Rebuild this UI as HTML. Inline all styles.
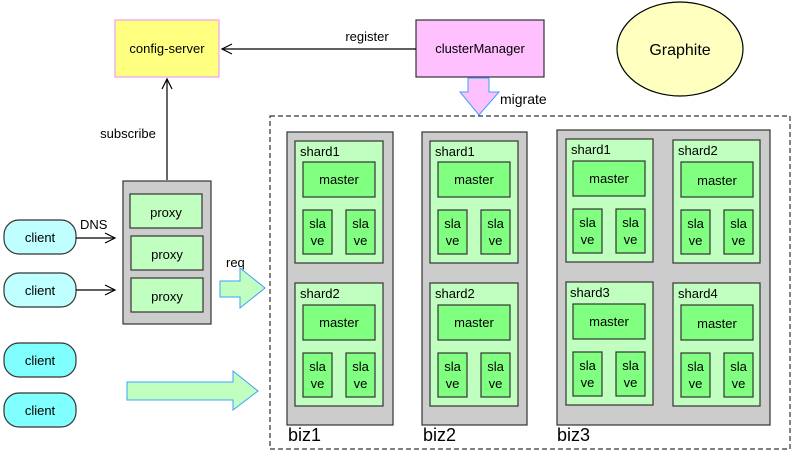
<!DOCTYPE html>
<html><head><meta charset="utf-8"><style>
html,body{margin:0;padding:0;background:#fff;}
svg{display:block;font-family:"Liberation Sans",sans-serif;}
</style></head><body>
<svg width="796" height="455" viewBox="0 0 796 455" xmlns="http://www.w3.org/2000/svg">
<!-- config-server -->
<rect x="115" y="20" width="104" height="57" fill="#ffff80" stroke="#f0a0f0" stroke-width="1.2"/>
<text x="167" y="53" font-size="13" text-anchor="middle">config-server</text>
<!-- clusterManager -->
<rect x="416" y="20" width="128" height="57" fill="#ffc0ff" stroke="#333" stroke-width="1.2"/>
<text x="480" y="53" font-size="13" text-anchor="middle">clusterManager</text>
<!-- register -->
<line x1="416" y1="49" x2="222" y2="49" stroke="#000" stroke-width="1.2"/>
<polyline points="232,44 222,49 232,54" fill="none" stroke="#000" stroke-width="1.2"/>
<text x="367" y="41" font-size="13" text-anchor="middle">register</text>
<!-- Graphite -->
<ellipse cx="680" cy="49" rx="63" ry="47" fill="#ffffc0" stroke="#000" stroke-width="1.2"/>
<text x="680" y="55" font-size="16" text-anchor="middle">Graphite</text>
<!-- migrate arrow -->
<polygon points="468,78 489,78 489,92 499,92 479,115 460,92 468,92" fill="#ffc0ff" stroke="#3aa0ff" stroke-width="1"/>
<text x="500" y="104" font-size="14">migrate</text>
<!-- subscribe -->
<line x1="167" y1="180" x2="167" y2="79" stroke="#000" stroke-width="1.2"/>
<polyline points="162,89 167,79 172,89" fill="none" stroke="#000" stroke-width="1.2"/>
<text x="128" y="138" font-size="13" text-anchor="middle">subscribe</text>
<!-- proxy container -->
<rect x="123" y="181" width="88" height="143" fill="#cccccc" stroke="#333" stroke-width="1.2"/>
<rect x="130" y="194" width="72" height="34" fill="#c0ffc0" stroke="#333" stroke-width="1.2"/>
<rect x="131" y="236" width="72" height="34" fill="#c0ffc0" stroke="#333" stroke-width="1.2"/>
<rect x="131" y="278" width="72" height="34" fill="#c0ffc0" stroke="#333" stroke-width="1.2"/>
<text x="166" y="217" font-size="13" text-anchor="middle">proxy</text>
<text x="167" y="259" font-size="13" text-anchor="middle">proxy</text>
<text x="167" y="301" font-size="13" text-anchor="middle">proxy</text>
<!-- clients -->
<rect x="4" y="220" width="72" height="34" rx="15" fill="#c0ffff" stroke="#333" stroke-width="1.2"/>
<rect x="4" y="273" width="72" height="34" rx="15" fill="#c0ffff" stroke="#333" stroke-width="1.2"/>
<rect x="4" y="343" width="72" height="34" rx="15" fill="#80ffff" stroke="#333" stroke-width="1.2"/>
<rect x="4" y="393" width="72" height="34" rx="15" fill="#80ffff" stroke="#333" stroke-width="1.2"/>
<text x="40" y="242" font-size="13" text-anchor="middle">client</text>
<text x="40" y="295" font-size="13" text-anchor="middle">client</text>
<text x="40" y="365" font-size="13" text-anchor="middle">client</text>
<text x="40" y="415" font-size="13" text-anchor="middle">client</text>
<!-- DNS arrows -->
<line x1="76" y1="238" x2="115" y2="238" stroke="#000" stroke-width="1.2"/>
<polyline points="105,233 115,238 105,243" fill="none" stroke="#000" stroke-width="1.2"/>
<line x1="76" y1="290" x2="115" y2="290" stroke="#000" stroke-width="1.2"/>
<polyline points="105,285 115,290 105,295" fill="none" stroke="#000" stroke-width="1.2"/>
<text x="80" y="229" font-size="13">DNS</text>
<!-- req arrow -->
<polygon points="220,281 240,281 240,268 265,288 240,308 240,297 220,297" fill="#c0ffc0" stroke="#3aa0ff" stroke-width="1"/>
<text x="226" y="267" font-size="13">req</text>
<!-- big arrow -->
<polygon points="127,382 233,382 233,371 258,391 233,410 233,400 127,400" fill="#c0ffc0" stroke="#3aa0ff" stroke-width="1"/>
<!-- dashed box -->
<rect x="270" y="116" width="520" height="333" fill="none" stroke="#333" stroke-width="1.2" stroke-dasharray="5,3"/>
<!-- biz gray -->
<rect x="287" y="132" width="106" height="293" fill="#cccccc" stroke="#333" stroke-width="1.2"/>
<rect x="422" y="132" width="105" height="293" fill="#cccccc" stroke="#333" stroke-width="1.2"/>
<rect x="557" y="130" width="213" height="295" fill="#cccccc" stroke="#333" stroke-width="1.2"/>
<text x="288" y="441" font-size="18">biz1</text>
<text x="423" y="441" font-size="18">biz2</text>
<text x="557" y="441" font-size="18">biz3</text>

<g font-size="13">
<g transform="translate(295,141)">
<rect width="88" height="122" fill="#c0ffc0" stroke="#333" stroke-width="1.2"/>
<text x="5" y="15">shard1</text>
<rect x="8" y="21" width="72" height="35" fill="#80ff80" stroke="#333" stroke-width="1.2"/>
<text x="44" y="43" text-anchor="middle">master</text>
<rect x="8" y="69" width="29" height="44" fill="#80ff80" stroke="#333" stroke-width="1.2"/>
<rect x="51" y="69" width="29" height="44" fill="#80ff80" stroke="#333" stroke-width="1.2"/>
<text x="22.5" y="87" text-anchor="middle">sla</text><text x="22.5" y="104" text-anchor="middle">ve</text>
<text x="65.5" y="87" text-anchor="middle">sla</text><text x="65.5" y="104" text-anchor="middle">ve</text>
</g>
<g transform="translate(295,283)">
<rect width="88" height="123" fill="#c0ffc0" stroke="#333" stroke-width="1.2"/>
<text x="5" y="15">shard2</text>
<rect x="8" y="22" width="72" height="35" fill="#80ff80" stroke="#333" stroke-width="1.2"/>
<text x="44" y="44" text-anchor="middle">master</text>
<rect x="8" y="70" width="29" height="44" fill="#80ff80" stroke="#333" stroke-width="1.2"/>
<rect x="51" y="70" width="29" height="44" fill="#80ff80" stroke="#333" stroke-width="1.2"/>
<text x="22.5" y="88" text-anchor="middle">sla</text><text x="22.5" y="105" text-anchor="middle">ve</text>
<text x="65.5" y="88" text-anchor="middle">sla</text><text x="65.5" y="105" text-anchor="middle">ve</text>
</g>
<g transform="translate(430,141)">
<rect width="88" height="122" fill="#c0ffc0" stroke="#333" stroke-width="1.2"/>
<text x="5" y="15">shard1</text>
<rect x="8" y="21" width="72" height="35" fill="#80ff80" stroke="#333" stroke-width="1.2"/>
<text x="44" y="43" text-anchor="middle">master</text>
<rect x="8" y="69" width="29" height="44" fill="#80ff80" stroke="#333" stroke-width="1.2"/>
<rect x="51" y="69" width="29" height="44" fill="#80ff80" stroke="#333" stroke-width="1.2"/>
<text x="22.5" y="87" text-anchor="middle">sla</text><text x="22.5" y="104" text-anchor="middle">ve</text>
<text x="65.5" y="87" text-anchor="middle">sla</text><text x="65.5" y="104" text-anchor="middle">ve</text>
</g>
<g transform="translate(430,283)">
<rect width="88" height="123" fill="#c0ffc0" stroke="#333" stroke-width="1.2"/>
<text x="5" y="15">shard2</text>
<rect x="8" y="22" width="72" height="35" fill="#80ff80" stroke="#333" stroke-width="1.2"/>
<text x="44" y="44" text-anchor="middle">master</text>
<rect x="8" y="70" width="29" height="44" fill="#80ff80" stroke="#333" stroke-width="1.2"/>
<rect x="51" y="70" width="29" height="44" fill="#80ff80" stroke="#333" stroke-width="1.2"/>
<text x="22.5" y="88" text-anchor="middle">sla</text><text x="22.5" y="105" text-anchor="middle">ve</text>
<text x="65.5" y="88" text-anchor="middle">sla</text><text x="65.5" y="105" text-anchor="middle">ve</text>
</g>
<g transform="translate(566,139)">
<rect width="87" height="123" fill="#c0ffc0" stroke="#333" stroke-width="1.2"/>
<text x="5" y="15">shard1</text>
<rect x="7" y="22" width="72" height="35" fill="#80ff80" stroke="#333" stroke-width="1.2"/>
<text x="43" y="44" text-anchor="middle">master</text>
<rect x="7" y="70" width="29" height="44" fill="#80ff80" stroke="#333" stroke-width="1.2"/>
<rect x="50" y="70" width="29" height="44" fill="#80ff80" stroke="#333" stroke-width="1.2"/>
<text x="21.5" y="88" text-anchor="middle">sla</text><text x="21.5" y="105" text-anchor="middle">ve</text>
<text x="64.5" y="88" text-anchor="middle">sla</text><text x="64.5" y="105" text-anchor="middle">ve</text>
</g>
<g transform="translate(673,140)">
<rect width="87" height="123" fill="#c0ffc0" stroke="#333" stroke-width="1.2"/>
<text x="5" y="15">shard2</text>
<rect x="8" y="22" width="72" height="35" fill="#80ff80" stroke="#333" stroke-width="1.2"/>
<text x="44" y="45" text-anchor="middle">master</text>
<rect x="8" y="70" width="29" height="44" fill="#80ff80" stroke="#333" stroke-width="1.2"/>
<rect x="51" y="70" width="29" height="44" fill="#80ff80" stroke="#333" stroke-width="1.2"/>
<text x="22.5" y="88" text-anchor="middle">sla</text><text x="22.5" y="105" text-anchor="middle">ve</text>
<text x="65.5" y="88" text-anchor="middle">sla</text><text x="65.5" y="105" text-anchor="middle">ve</text>
</g>
<g transform="translate(566,282)">
<rect width="87" height="123" fill="#c0ffc0" stroke="#333" stroke-width="1.2"/>
<text x="4" y="15">shard3</text>
<rect x="7" y="22" width="72" height="35" fill="#80ff80" stroke="#333" stroke-width="1.2"/>
<text x="43" y="44" text-anchor="middle">master</text>
<rect x="7" y="70" width="29" height="44" fill="#80ff80" stroke="#333" stroke-width="1.2"/>
<rect x="50" y="70" width="29" height="44" fill="#80ff80" stroke="#333" stroke-width="1.2"/>
<text x="21.5" y="88" text-anchor="middle">sla</text><text x="21.5" y="105" text-anchor="middle">ve</text>
<text x="64.5" y="88" text-anchor="middle">sla</text><text x="64.5" y="105" text-anchor="middle">ve</text>
</g>
<g transform="translate(673,283)">
<rect width="87" height="123" fill="#c0ffc0" stroke="#333" stroke-width="1.2"/>
<text x="5" y="15">shard4</text>
<rect x="8" y="22" width="72" height="35" fill="#80ff80" stroke="#333" stroke-width="1.2"/>
<text x="44" y="45" text-anchor="middle">master</text>
<rect x="8" y="70" width="29" height="44" fill="#80ff80" stroke="#333" stroke-width="1.2"/>
<rect x="51" y="70" width="29" height="44" fill="#80ff80" stroke="#333" stroke-width="1.2"/>
<text x="22.5" y="88" text-anchor="middle">sla</text><text x="22.5" y="105" text-anchor="middle">ve</text>
<text x="65.5" y="88" text-anchor="middle">sla</text><text x="65.5" y="105" text-anchor="middle">ve</text>
</g>
</g>
</svg>
</body></html>
